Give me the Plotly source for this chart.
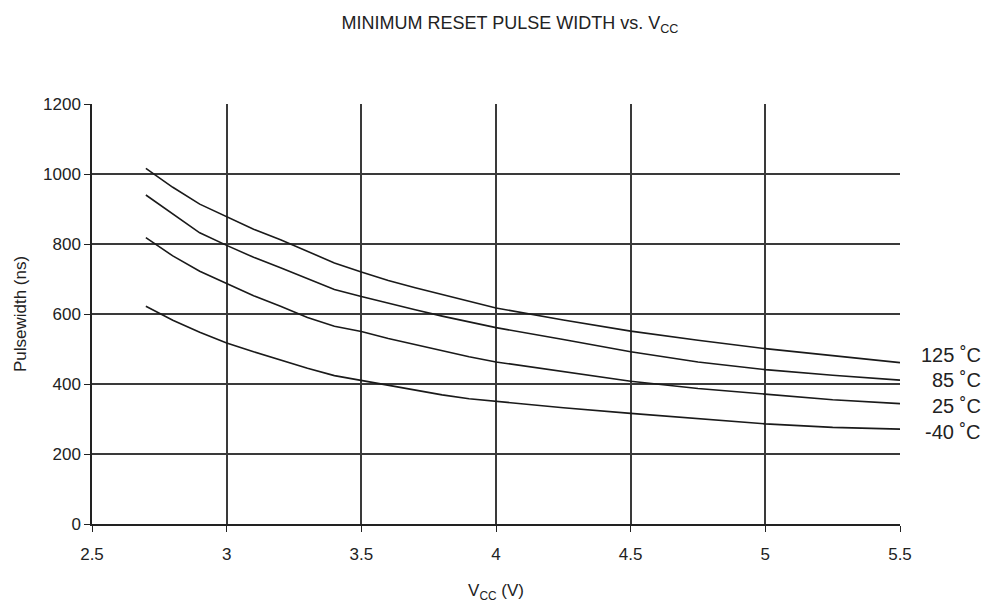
import plotly.graph_objects as go

vcc = [2.7, 2.8, 2.9, 3.0, 3.1, 3.2, 3.3, 3.4, 3.5, 3.6, 3.7, 3.8, 3.9, 4.0, 4.25, 4.5, 4.75, 5.0, 5.25, 5.5]
t125 = [1016, 962, 914, 877, 842, 812, 778, 746, 720, 696, 675, 655, 635, 617, 583, 551, 525, 501, 481, 461]
t85 = [940, 885, 832, 796, 762, 732, 700, 670, 650, 630, 612, 594, 577, 561, 527, 492, 463, 441, 425, 411]
t25 = [818, 766, 722, 687, 652, 622, 590, 565, 550, 530, 512, 495, 478, 463, 435, 408, 387, 370, 355, 344]
tm40 = [622, 582, 548, 517, 492, 468, 445, 424, 410, 396, 382, 369, 358, 350, 332, 316, 300, 286, 276, 271]

series = [("125 ˚C", t125), ("85 ˚C", t85), ("25 ˚C", t25), ("-40 ˚C", tm40)]

OFF = 8  # browser body margin
W, H = 999 - OFF, 608 - OFF
ml, mt = 91.5 - OFF, 103.5 - OFF
mr = W - (900 - OFF)
mb = H - (524 - OFF)
pw, ph = W - ml - mr, H - mt - mb

label_y = [355, 380, 406, 432]  # page pixel rows of label centers
label_right = 983

fig = go.Figure()
for name, vals in series:
    fig.add_trace(go.Scatter(x=vcc, y=vals, mode="lines", name=name,
                             line=dict(color="#1a1a1a", width=1.6), showlegend=False))

for (name, _), py in zip(series, label_y):
    fig.add_annotation(x=(label_right - OFF - ml) / pw, y=(H - mb - (py - OFF)) / ph,
                       xref="paper", yref="paper", text=name, showarrow=False,
                       xanchor="right", yanchor="middle",
                       font=dict(size=20, color="#222"))

fig.update_layout(
    width=W, height=H,
    margin=dict(l=ml, r=mr, t=mt, b=mb),
    plot_bgcolor="white", paper_bgcolor="white",
    font=dict(family="Liberation Sans, Arial, sans-serif", color="#222"),
    title=dict(text="MINIMUM RESET PULSE WIDTH vs. V<sub>CC</sub>", x=(510 - OFF) / W, xanchor="center",
               y=1 - (23 - OFF) / H, yanchor="middle", font=dict(size=18, color="#222")),
)
fig.update_xaxes(range=[2.5, 5.5], dtick=0.5, tick0=2.5, showgrid=True, gridcolor="#3a3a3a", gridwidth=1.5,
                 showline=True, linecolor="#222", linewidth=1.5, ticks="outside", ticklen=6,
                 tickcolor="#222", tickfont=dict(size=17), zeroline=False, ticklabelstandoff=8,
                 title=dict(text="V<sub>CC</sub> (V)", font=dict(size=17), standoff=21))
fig.update_yaxes(range=[0, 1200], dtick=200, showgrid=True, gridcolor="#3a3a3a", gridwidth=1.5,
                 showline=True, linecolor="#222", linewidth=1.5, ticks="outside", ticklen=6,
                 tickcolor="#222", tickfont=dict(size=17), zeroline=False,
                 title=dict(text="Pulsewidth (ns)", font=dict(size=17), standoff=12))

fig.write_html("out.html")
